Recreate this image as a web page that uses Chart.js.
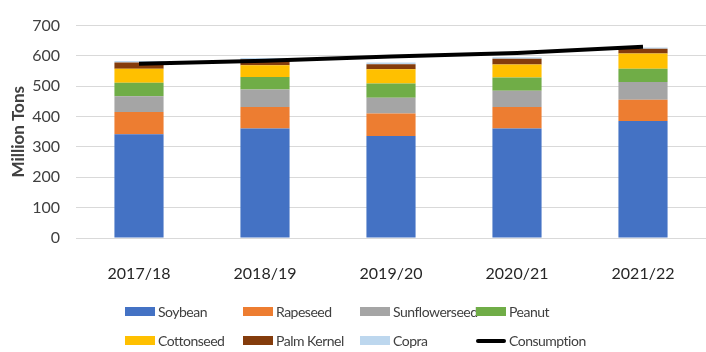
<!DOCTYPE html>
<html>
<head>
<meta charset="utf-8">
<script src="https://cdn.jsdelivr.net/npm/chart.js@4"></script>
<style>
  body { margin: 0; background: #fff; }
  #wrap { position: relative; width: 706px; height: 352px; font-family: Lato, sans-serif; }
  #legend {
    position: absolute; left: 125px; top: 297px;
    display: grid; grid-template-columns: 118px 117px 116px 116px; grid-auto-rows: 29px;
  }
  .item {
    display: flex; align-items: center; white-space: nowrap;
    font-size: 14px; letter-spacing: -0.5px; color: #404040;
  }
  .swatch { width: 30px; height: 9px; margin-right: 3px; flex: none; }
  .swatch.line { height: 4px; border-radius: 2px; }
</style>
</head>
<body>
<div id="wrap">
  <canvas id="oilseeds" width="706" height="352"></canvas>
  <div id="legend"></div>
</div>
<script>
  // world oilseed production by crop, million tons
  const seasons = ['2017/18', '2018/19', '2019/20', '2020/21', '2021/22'];

  const soybean     = [342, 361, 336, 361, 386];
  const rapeseed    = [73, 71, 74, 71, 70];
  const sunflower   = [52, 57, 52, 53, 58];
  const peanut      = [45, 42, 47, 44, 44];
  const cottonseed  = [46, 38, 47, 43, 50];
  const palmKernel  = [20, 19, 17, 19, 16];
  const copra       = [5, 5, 5, 5, 4];

  const consumption = [574, 584, 598, 610, 630];

  const yTicks = [0, 100, 200, 300, 400, 500, 600, 700];

  const bars = [
    { label: 'Soybean',       data: soybean,    color: '#4472C4' },
    { label: 'Rapeseed',      data: rapeseed,   color: '#ED7D31' },
    { label: 'Sunflowerseed', data: sunflower,  color: '#A5A5A5' },
    { label: 'Peanut',        data: peanut,     color: '#70AD47' },
    { label: 'Cottonseed',    data: cottonseed, color: '#FFC000' },
    { label: 'Palm Kernel',   data: palmKernel, color: '#843C0C' },
    { label: 'Copra',         data: copra,      color: '#BDD7EE' },
  ];

  Chart.defaults.font.family = 'Lato, sans-serif';

  const datasets = bars.map(b => ({
    type: 'bar',
    label: b.label,
    data: b.data,
    backgroundColor: b.color,
    borderWidth: 0,
    stack: 'crops',
    order: 1,
    barPercentage: 0.39,
    categoryPercentage: 1.0,
  }));

  datasets.push({
    type: 'line',
    label: 'Consumption',
    data: consumption,
    borderColor: '#000',
    backgroundColor: '#000',
    borderWidth: 4,
    pointRadius: 0,
    tension: 0,
    stack: 'use',
    order: 0,
  });

  const chart = new Chart(document.getElementById('oilseeds'), {
    data: { labels: seasons, datasets: datasets },
    options: {
      responsive: false,
      animation: false,
      layout: { padding: { top: 25, right: 0, bottom: 0, left: 0 } },
      plugins: { legend: { display: false }, tooltip: { enabled: false } },
      scales: {
        x: {
          stacked: true,
          grid: { display: false },
          border: { display: false },
          ticks: { font: { size: 16 }, color: '#262626', padding: 18 },
          afterFit: s => { s.height = 114; },
        },
        y: {
          stacked: true,
          min: 0,
          max: 700,
          afterBuildTicks: s => { s.ticks = yTicks.map(v => ({ value: v })); },
          grid: { color: '#d9d9d9', lineWidth: 1, drawTicks: false },
          border: { display: false },
          ticks: { font: { size: 16 }, color: '#404040', padding: 16 },
          title: {
            display: true,
            text: 'Million Tons',
            font: { size: 17, weight: 'bold' },
            color: '#404040',
            padding: { top: 8, bottom: 0 },
          },
          afterFit: s => { s.width = 76; },
        },
      },
    },
  });

  // html legend laid out in a fixed 4-column grid
  const legend = document.getElementById('legend');
  chart.data.datasets.forEach(ds => {
    const item = document.createElement('div');
    item.className = 'item';
    const sw = document.createElement('span');
    sw.className = 'swatch' + (ds.type === 'line' ? ' line' : '');
    sw.style.background = ds.type === 'line' ? ds.borderColor : ds.backgroundColor;
    item.appendChild(sw);
    item.appendChild(document.createTextNode(ds.label));
    legend.appendChild(item);
  });
</script>
</body>
</html>
